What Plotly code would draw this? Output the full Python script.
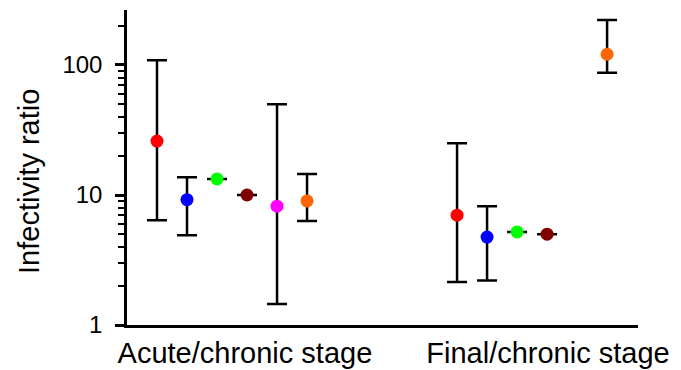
import plotly.graph_objects as go

# Stages (x categories) and per-series estimates with confidence bounds
stages = ["Acute/chronic stage", "Final/chronic stage"]
series_names = ["S1", "S2", "S3", "S4", "S5", "S6"]
colors = ["#ff0000", "#0000ff", "#00ff00", "#800000", "#ff00ff", "#ff6600"]
y_title = "Infectivity ratio"

# Values per series: [acute/chronic, final/chronic]; None where not measured
ratio = [
    [26.0, 7.0],
    [9.2, 4.75],
    [13.3, 5.2],
    [10.0, 5.0],
    [8.2, None],
    [9.0, 121.0],
]
upper = [
    [109.0, 25.0],
    [13.7, 8.2],
    [13.3, 5.2],
    [10.0, 5.0],
    [50.0, None],
    [14.5, 222.0],
]
lower = [
    [6.4, 2.14],
    [4.9, 2.2],
    [13.3, 5.2],
    [10.0, 5.0],
    [1.45, None],
    [6.3, 87.0],
]

GROUP_STEP = 10  # spacing between stage groups on the numeric x axis

fig = go.Figure()
for i, name in enumerate(series_names):
    xs, ys, up, dn = [], [], [], []
    for g in range(len(stages)):
        v = ratio[i][g]
        if v is None:
            continue
        xs.append(g * GROUP_STEP + i)
        ys.append(v)
        up.append(upper[i][g] - v)
        dn.append(v - lower[i][g])
    fig.add_trace(go.Scatter(
        x=xs, y=ys, mode="markers", name=name,
        marker=dict(color=colors[i], size=13, line=dict(width=0)),
        error_y=dict(type="data", symmetric=False, array=up, arrayminus=dn,
                     color="black", thickness=2.5, width=10),
        showlegend=False,
    ))

# label centres sit slightly right of each group's middle
label_pos = [2.93, 2.93 + GROUP_STEP + 0.1]

minor_vals = [m * d for d in (1, 10, 100) for m in range(2, 10) if m * d <= 200]

fig.update_layout(
    width=681, height=370,
    margin=dict(l=127, r=43, t=10, b=45),
    paper_bgcolor="white", plot_bgcolor="white",
    font=dict(family="Liberation Sans, Arial, sans-serif", color="black"),
    xaxis=dict(
        range=[-1, 16.03], showgrid=False, zeroline=False, automargin=False,
        showline=True, linecolor="black", linewidth=2.5,
        tickmode="array", tickvals=label_pos, ticktext=stages,
        ticks="", tickfont=dict(size=29), ticklabelstandoff=0,
    ),
    yaxis=dict(
        type="log", range=[0, 2.423], showgrid=False, zeroline=False,
        automargin=False,
        showline=True, linecolor="black", linewidth=2.5,
        tickmode="array", tickvals=[1, 10, 100], ticktext=["1", "10", "100"],
        ticks="outside", ticklen=9, tickwidth=2.5, tickcolor="black",
        tickfont=dict(size=24), ticklabelstandoff=8,
        minor=dict(tickmode="array", tickvals=minor_vals, ticks="outside",
                   ticklen=6, tickwidth=2, tickcolor="black", showgrid=False),
    ),
)

# y-axis title placed as a rotated annotation, a little below the axis middle
fig.add_annotation(
    text=y_title, textangle=-90, showarrow=False,
    xref="paper", yref="paper", x=0, y=0.454,
    xanchor="center", yanchor="middle", xshift=-98,
    font=dict(size=29),
)

fig.write_html("out.html")
